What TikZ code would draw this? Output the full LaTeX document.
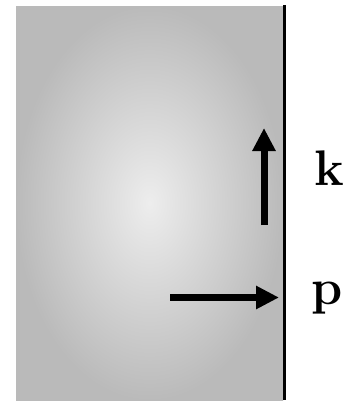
\documentclass[tikz,border=0pt]{standalone}
\usepackage{fontspec}
\usepackage{tikz}
\usetikzlibrary{arrows.meta,positioning}

\begin{document}
\begin{tikzpicture}[
    x=1pt, y=-1pt,
    every node/.style={font=\fontsize{50}{60}\selectfont\bfseries},
    medium/.style={shading=radial,inner color=black!7,outer color=black!27},
    wall/.style={draw,line width=3.2pt,black},
    vec/.style={-{Triangle[length=23pt,width=22pt]},line width=7pt,black},
    lbl/.style={anchor=base,inner sep=0pt}
]
\useasboundingbox (0,0) rectangle (345,402);

% Medium and boundary
\shade[medium] (16,6) rectangle (283,400);
\coordinate (wtop) at (284.5,5);
\coordinate (wbot) at (284.5,400);
\draw[wall] (wtop) -- (wbot);

% Wave vectors
\coordinate (ktail) at (264,225);
\coordinate (khead) at (264,128);
\coordinate (ptail) at (170,297.5);
\coordinate (phead) at (279,297.5);
\draw[vec] (ktail) -- (khead);
\draw[vec] (ptail) -- (phead);

% Labels
\node[lbl] (klab) at (329,185) {k};
\node[lbl] (plab) at (327,304) {p};

\end{tikzpicture}
\end{document}
